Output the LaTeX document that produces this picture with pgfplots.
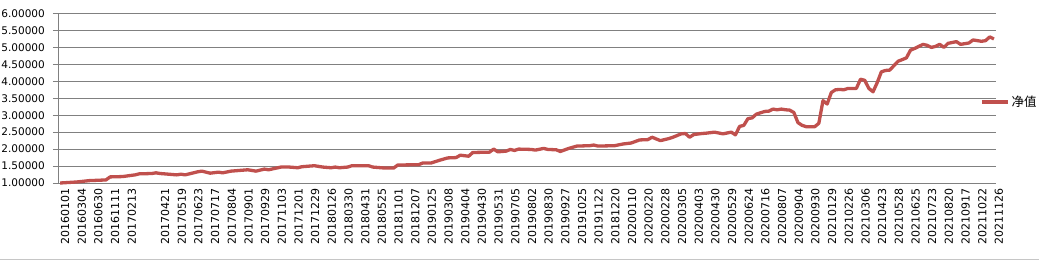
\documentclass[border=0pt]{standalone}
\usepackage{fontspec}
\setmainfont{DejaVu Sans}
\newfontfamily\cjk{Noto Sans CJK SC}
\usepackage{pgfplots}
\pgfplotsset{compat=1.18}
\definecolor{linered}{HTML}{C0504D}
\definecolor{gridgray}{HTML}{808080}
\pgfplotstableread{
x y
0 1.00
4 1.03
7 1.07
11 1.09
12 1.18
15 1.19
18 1.24
19 1.27
22 1.28
23 1.30
24 1.28
26 1.26
28 1.24
29 1.26
30 1.24
33 1.33
34 1.35
36 1.29
38 1.32
39 1.30
41 1.35
45 1.39
47 1.35
49 1.41
50 1.39
53 1.47
55 1.47
57 1.45
58 1.48
61 1.51
63 1.47
65 1.45
66 1.47
67 1.45
69 1.47
70 1.51
74 1.51
75 1.47
78 1.44
80 1.44
81 1.53
86 1.54
87 1.59
89 1.59
91 1.67
93 1.74
95 1.75
96 1.82
98 1.79
99 1.90
103 1.91
104 2.00
105 1.92
107 1.94
108 1.99
109 1.96
110 2.00
113 1.99
114 1.97
116 2.02
117 1.99
119 1.98
120 1.93
122 2.02
124 2.09
127 2.10
128 2.12
129 2.09
133 2.10
135 2.15
137 2.18
139 2.27
141 2.28
142 2.35
144 2.25
146 2.31
147 2.35
149 2.45
150 2.46
151 2.35
152 2.43
154 2.46
155 2.47
157 2.50
159 2.45
161 2.50
162 2.42
163 2.67
164 2.70
165 2.90
166 2.92
167 3.03
169 3.11
170 3.12
171 3.18
172 3.16
173 3.18
174 3.16
175 3.15
176 3.08
177 2.78
178 2.70
179 2.66
181 2.66
182 2.76
183 3.43
184 3.33
185 3.67
186 3.75
187 3.76
188 3.75
189 3.79
191 3.79
192 4.06
193 4.03
194 3.79
195 3.69
196 3.96
197 4.28
198 4.32
199 4.33
200 4.46
201 4.59
203 4.69
204 4.92
205 4.97
207 5.09
208 5.06
209 5.00
210 5.03
211 5.09
212 5.00
213 5.12
215 5.17
216 5.09
218 5.13
219 5.22
221 5.18
222 5.20
223 5.31
224 5.25
}\navdata
\begin{document}
\begin{tikzpicture}
\useasboundingbox (0pt,0pt) rectangle (1039pt,260pt);
\draw[gray!45, line width=0.9pt] (0pt,0.7pt) -- (1039pt,0.7pt);
\begin{axis}[
  at={(58pt,77pt)}, anchor=south west,
  scale only axis, width=938pt, height=169.5pt,
  xmin=-0.5, xmax=224.5, ymin=1, ymax=6,
  axis x line*=bottom, axis y line*=left,
  axis line style={gridgray, line width=0.9pt, -},
  tick align=outside,
  xtick={0,4,...,224},
  xticklabels={20160101,20160304,20160630,20161111,20170213,{},20170421,20170519,20170623,20170717,20170804,20170901,20170929,20171103,20171201,20171229,20180126,20180330,20180431,20180525,20181101,20181207,20190125,20190308,20190404,20190430,20190531,20190705,20190802,20190830,20190927,20191025,20191122,20181220,20200110,20200220,20200228,20200305,20200403,20200430,20200529,20200624,20200716,20200807,20200904,20200930,20210129,20210226,20210306,20210423,20210528,20210625,20210723,20210820,20210917,20211022,20211126},
  minor xtick={-0.5,0.5,...,224.5},
  major tick length=5pt, minor tick length=4pt,
  xtick style={draw=none},
  minor tick style={gridgray, line width=0.8pt},
  ytick={1,1.5,2,2.5,3,3.5,4,4.5,5,5.5,6},
  ytick style={gridgray, line width=0.9pt},
  ymajorgrids, grid style={gridgray, line width=0.9pt},
  yticklabel style={/pgf/number format/fixed, /pgf/number format/fixed zerofill, /pgf/number format/precision=5, /pgf/number format/assume math mode=true},
  yticklabel style={font=\fontsize{10.5}{11}\selectfont, anchor=east, inner sep=0pt, xshift=-8pt},
  xticklabel style={font=\fontsize{11}{11}\selectfont, rotate=90, anchor=east, inner sep=0pt, yshift=-5pt},
  legend style={at={(0.983,0.478)}, anchor=west, draw=none, fill=none, inner sep=0pt,
    font=\cjk\fontsize{12.5}{13}\selectfont},
  legend image code/.code={\draw[#1] (0pt,0pt) -- (26pt,0pt);},
  clip=false,
]
\addplot[linered, line width=3.3pt, line join=round] table[x=x,y=y] {\navdata};
\addlegendentry{净值}
\end{axis}
\end{tikzpicture}
\end{document}
